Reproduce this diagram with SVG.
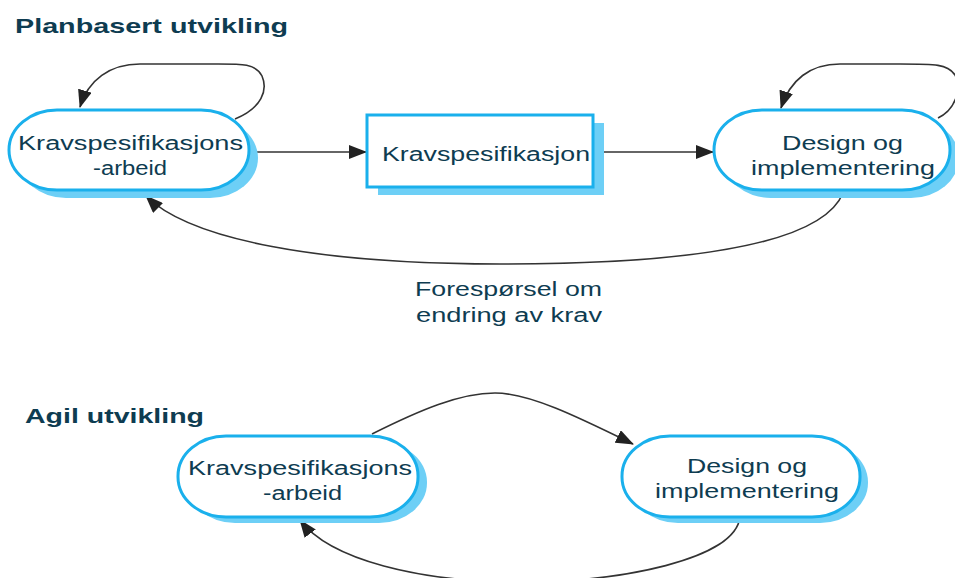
<svg xmlns="http://www.w3.org/2000/svg" width="955" height="578" viewBox="0 0 955 578">
  <style>
    .title { font-family: "Liberation Sans", Arial, sans-serif; font-weight: bold; font-size: 21px; fill: #0e3c51; }
    .lbl { font-family: "Liberation Sans", Arial, sans-serif; font-size: 19.5px; fill: #0e3c51; }
    .shadow { fill: #6dcff6; }
    .box { fill: #ffffff; stroke: #1ab0ec; stroke-width: 3; }
    .edge { fill: none; stroke: #333333; stroke-width: 1.6; marker-end: url(#arrow); }
  </style>
  <defs>
    <marker id="arrow" markerUnits="userSpaceOnUse" markerWidth="18" markerHeight="14" viewBox="0 0 18 14" refX="17" refY="7" orient="auto">
      <path d="M0,0 L18,7 L0,14 Z" fill="#222222"/>
    </marker>
  </defs>

  <rect width="955" height="578" fill="#ffffff"/>

  <text class="title" x="15" y="33" textLength="273" lengthAdjust="spacingAndGlyphs">Planbasert utvikling</text>
  <text class="title" x="25" y="423" textLength="179" lengthAdjust="spacingAndGlyphs">Agil utvikling</text>

  <g id="edges">
    <path class="edge" d="M235,119 C262,108 268,90 262,76 C255,62 240,64 200,64 L140,64 C110,64 88,80 80,107"/>
    <path class="edge" d="M250,152 L366,152"/>
    <path class="edge" d="M594,152 L713,152"/>
    <path class="edge" d="M938,118 C955,110 962,90 955,75 C948,64 935,64 900,64 L840,64 C810,64 790,80 781,108"/>
    <path class="edge" d="M843,193 C820,250 660,264 500,264 C320,264 190,240 146,196"/>
    <path class="edge" d="M372,434 C420,410 460,393 495,393 C530,393 580,418 633,444"/>
    <path class="edge" d="M740,517 C735,560 620,582 520,582 C420,582 330,560 300,520"/>
    <text class="lbl" x="415" y="296" textLength="187" lengthAdjust="spacingAndGlyphs">Forespørsel om</text>
    <text class="lbl" x="416" y="322" textLength="186" lengthAdjust="spacingAndGlyphs">endring av krav</text>
  </g>

  <g id="plan-krav-arbeid">
    <rect class="shadow" x="18" y="118" width="240" height="80" rx="48" ry="40"/>
    <rect class="box" x="9" y="110" width="240" height="80" rx="48" ry="40"/>
    <text class="lbl" x="18" y="150" textLength="225" lengthAdjust="spacingAndGlyphs">Kravspesifikasjons</text>
    <text class="lbl" x="93" y="175" textLength="74" lengthAdjust="spacingAndGlyphs">-arbeid</text>
  </g>

  <g id="plan-kravspesifikasjon">
    <rect class="shadow" x="378" y="123" width="226" height="72"/>
    <rect class="box" x="367" y="115" width="226" height="72"/>
    <text class="lbl" x="382" y="161" textLength="208" lengthAdjust="spacingAndGlyphs">Kravspesifikasjon</text>
  </g>

  <g id="plan-design">
    <rect class="shadow" x="723" y="118" width="236" height="80" rx="48" ry="40"/>
    <rect class="box" x="714" y="110" width="236" height="80" rx="48" ry="40"/>
    <text class="lbl" x="782" y="150" textLength="121" lengthAdjust="spacingAndGlyphs">Design og</text>
    <text class="lbl" x="751" y="175" textLength="184" lengthAdjust="spacingAndGlyphs">implementering</text>
  </g>

  <g id="agil-krav-arbeid">
    <rect class="shadow" x="187" y="442" width="240" height="81" rx="48" ry="40"/>
    <rect class="box" x="178" y="436" width="240" height="81" rx="48" ry="40"/>
    <text class="lbl" x="188" y="475" textLength="224" lengthAdjust="spacingAndGlyphs">Kravspesifikasjons</text>
    <text class="lbl" x="263" y="500" textLength="79" lengthAdjust="spacingAndGlyphs">-arbeid</text>
  </g>

  <g id="agil-design">
    <rect class="shadow" x="630" y="442" width="238" height="81" rx="48" ry="40"/>
    <rect class="box" x="622" y="436" width="238" height="81" rx="48" ry="40"/>
    <text class="lbl" x="687" y="473" textLength="120" lengthAdjust="spacingAndGlyphs">Design og</text>
    <text class="lbl" x="655" y="498" textLength="184" lengthAdjust="spacingAndGlyphs">implementering</text>
  </g>
</svg>
